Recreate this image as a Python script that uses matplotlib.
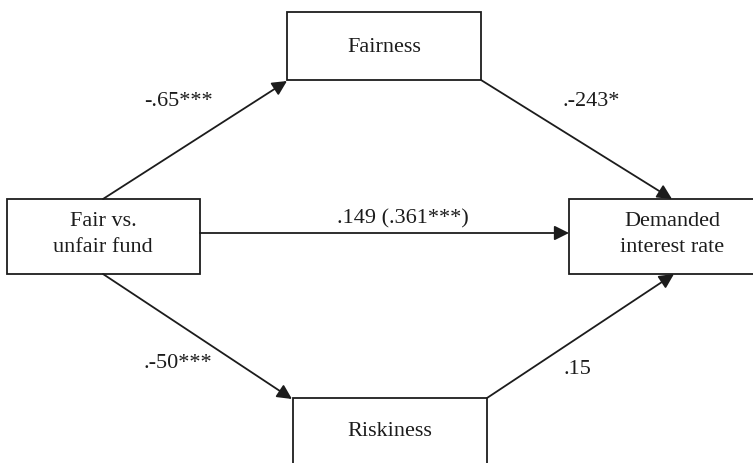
import matplotlib.pyplot as plt
from matplotlib.patches import Rectangle, FancyArrowPatch

plt.rcParams["font.family"] = ["Liberation Serif", "DejaVu Serif"]

# ============================================================
# MODEL
# ============================================================

node_names = ["Fair vs.\nunfair fund", "Fairness", "Riskiness", "Demanded\ninterest rate"]

path_labels = ["-.65***", ".-243*", ".149 (.361***)", ".-50***", ".15"]

# ============================================================
# LAYOUT (pixel coordinates, y downwards)
# ============================================================

boxes = {
    "Fair vs.\nunfair fund": (7, 199, 200, 274),
    "Fairness": (287, 12, 481, 80),
    "Riskiness": (293, 398, 487, 475),
    "Demanded\ninterest rate": (569, 199, 776, 274),
}

text_pos = {
    "Fair vs.\nunfair fund": (103, 235),
    "Fairness": (384, 47),
    "Riskiness": (390, 431),
    "Demanded\ninterest rate": (672, 235),
}

arrows = [
    ((103, 199), (287, 81)),
    ((481, 80), (672, 199)),
    ((200, 233), (569, 233)),
    ((103, 274), (292, 399)),
    ((487, 398), (674, 274)),
]

label_pos = [(178, 101), (591, 101), (403, 219), (178, 364), (577, 370)]

INK = "#1c1c1c"

fig = plt.figure(figsize=(7.53, 4.63), dpi=100)
ax = fig.add_axes([0, 0, 1, 1])
ax.set_xlim(0, 753)
ax.set_ylim(463, 0)
ax.axis("off")

for name in node_names:
    x0, y0, x1, y1 = boxes[name]
    ax.add_patch(Rectangle(
        (x0, y0), x1 - x0, y1 - y0,
        facecolor="white",
        edgecolor=INK,
        linewidth=1.3
    ))
    tx, ty = text_pos[name]
    ax.text(tx, ty, name, ha="center", va="center",
            fontsize=16, color=INK, linespacing=1.5)

for (start, end), label, (lx, ly) in zip(arrows, path_labels, label_pos):
    ax.add_patch(FancyArrowPatch(
        start, end,
        arrowstyle="-|>",
        mutation_scale=22,
        linewidth=1.3,
        color=INK,
        shrinkA=0,
        shrinkB=0
    ))
    ax.text(lx, ly, label, ha="center", va="center",
            fontsize=16, color=INK)

plt.savefig("out.png", dpi=100)
